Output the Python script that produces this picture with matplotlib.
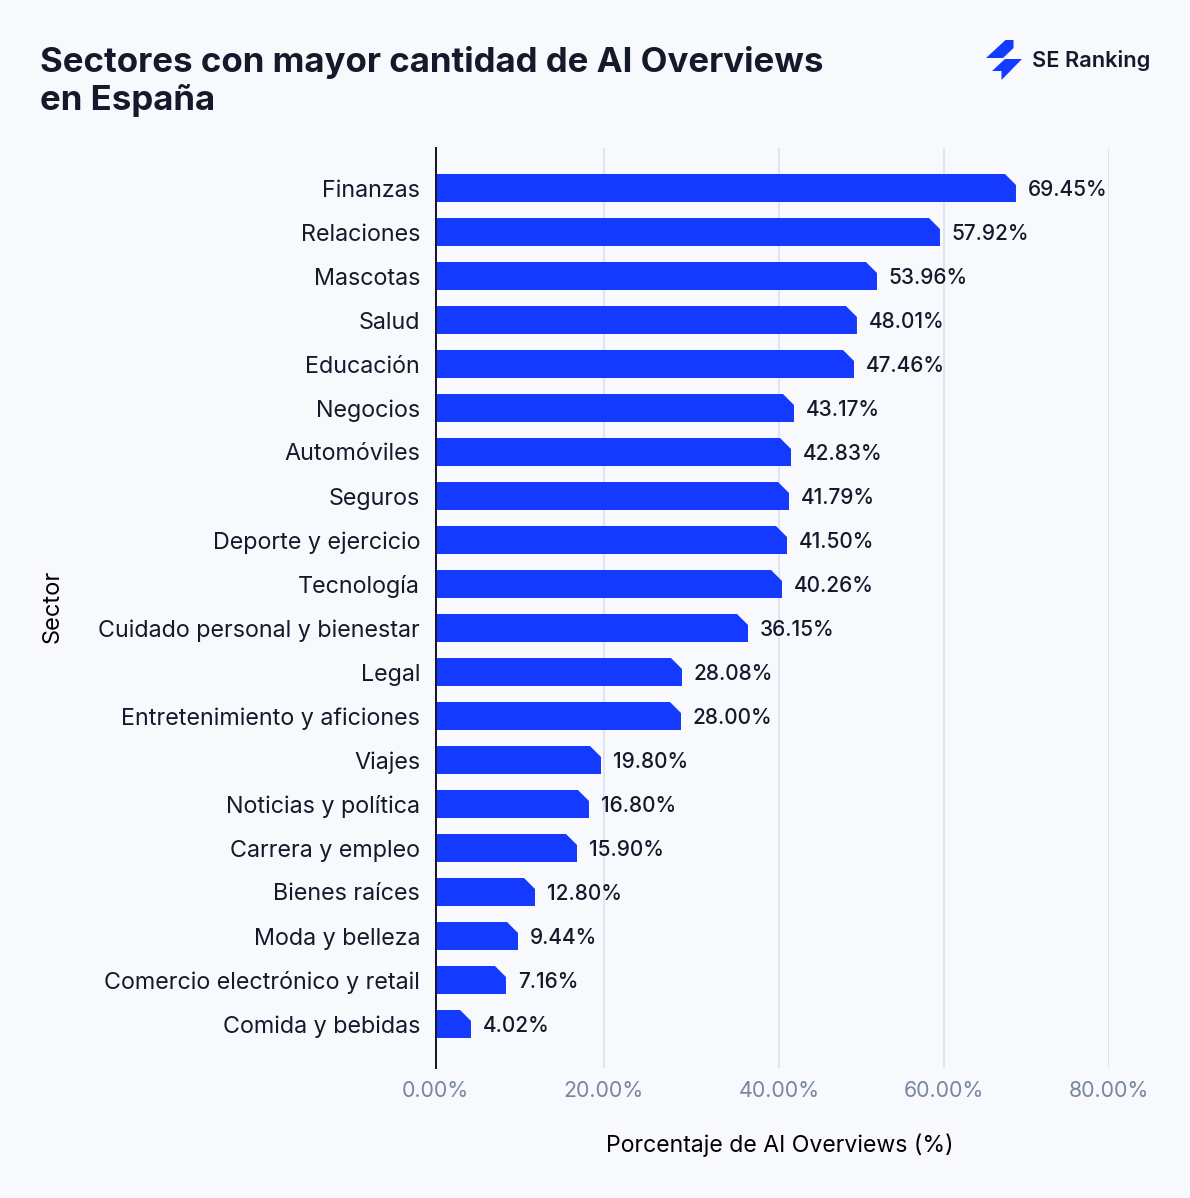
import matplotlib
matplotlib.use("Agg")
import matplotlib.pyplot as plt
from matplotlib.patches import Polygon

plt.rcParams['font.family'] = ['Inter', 'DejaVu Sans']

W, H = 1190, 1198
BG = "#f7f9fd"
BLUE = "#1439ff"
DARK = "#151a2b"
GREY = "#7a869f"
GRID = "#dde4f3"

sectors = ["Finanzas", "Relaciones", "Mascotas", "Salud", "Educación", "Negocios",
           "Automóviles", "Seguros", "Deporte y ejercicio", "Tecnología",
           "Cuidado personal y bienestar", "Legal", "Entretenimiento y aficiones",
           "Viajes", "Noticias y política", "Carrera y empleo", "Bienes raíces",
           "Moda y belleza", "Comercio electrónico y retail", "Comida y bebidas"]
# printed values
value_labels = ["69.45%", "57.92%", "53.96%", "48.01%", "47.46%", "43.17%", "42.83%",
                "41.79%", "41.50%", "40.26%", "36.15%", "28.08%", "28.00%", "19.80%",
                "16.80%", "15.90%", "12.80%", "9.44%", "7.16%", "4.02%"]
# the drawn bars don't follow the printed values exactly, these are read off the picture
bar_lengths = [68.95, 59.92, 52.44, 50.06, 49.71, 42.58, 42.23, 41.99, 41.75, 41.16,
               37.12, 29.28, 29.16, 19.66, 18.23, 16.81, 11.82, 9.80, 8.37, 4.22]
tick_positions = [0, 20.01, 40.80, 60.36, 80]
tick_labels = ["0.00%", "20.00%", "40.00%", "60.00%", "80.00%"]

fig = plt.figure(figsize=(W/100, H/100), dpi=100, facecolor=BG)

# chart axes, placed by pixel
left, right, top, bottom = 435.5, 1109, 148, 1068
ax = fig.add_axes([left/W, 1-bottom/H, (right-left)/W, (bottom-top)/H], facecolor=BG)
ax.set_xlim(0, 80)
ax.set_ylim(19+44/44, -40/44)

px_x = 80/(right-left)
px_y = 1/44
cut = 11
bars = ax.barh(range(len(sectors)), bar_lengths, height=28/44, color=BLUE, zorder=3)
for i, b in enumerate(bars):
    v = bar_lengths[i]
    h = 14/44
    clip = Polygon([(0, i-h), (v-cut*px_x, i-h), (v, i-h+cut*px_y), (v, i+h), (0, i+h)],
                   transform=ax.transData)
    b.set_clip_path(clip)
    ax.annotate(value_labels[i], (v, i), xytext=(8.6, 0), textcoords="offset points",
                va="center_baseline", ha="left", fontsize=15, fontweight="medium",
                color=DARK, zorder=4)

ax.set_yticks(range(len(sectors)))
ax.set_yticklabels(sectors, fontsize=16.8, color=DARK)
ax.set_xticks(tick_positions)
ax.set_xticklabels(tick_labels, fontsize=15.4, color=GREY)
ax.tick_params(axis="y", length=0, pad=11)
ax.tick_params(axis="x", length=0, pad=9.5)
ax.grid(axis="x", color=GRID, linewidth=1.44, zorder=1)
ax.set_axisbelow(True)
for s in ["top", "right", "bottom"]:
    ax.spines[s].set_visible(False)
ax.spines["left"].set_linewidth(1.44)
ax.spines["left"].set_color(DARK)
ax.spines["left"].set_zorder(5)

# overlay in image pixels for title, axis titles and logo
ov = fig.add_axes([0, 0, 1, 1], facecolor="none")
ov.set_xlim(0, W)
ov.set_ylim(H, 0)
ov.axis("off")

ov.text(40, 72, "Sectores con mayor cantidad de AI Overviews", fontsize=25.1,
        fontweight="bold", color=DARK, va="baseline", ha="left")
ov.text(40, 110, "en España", fontsize=25.1, fontweight="bold", color=DARK,
        va="baseline", ha="left")
ov.text(53, 606, "Sector", fontsize=17, color="#000000", rotation=90, ha="center", va="center")
ov.text(780, 1145, "Porcentaje de AI Overviews (%)", fontsize=16.6, color="#000000",
        ha="center", va="center")

ov.add_patch(Polygon([(986, 58), (1005.5, 40), (1013.5, 40), (1013.5, 48), (1003, 58)],
                     color=BLUE, lw=0))
ov.add_patch(Polygon([(992, 71), (1005, 59), (1022, 59), (1001.5, 80), (1001.5, 71)],
                     color=BLUE, lw=0))
ov.text(1032, 67, "SE Ranking", fontsize=15.7, fontweight="semibold", color=DARK,
        ha="left", va="baseline")

fig.savefig("out.png", dpi=100, facecolor=BG)
